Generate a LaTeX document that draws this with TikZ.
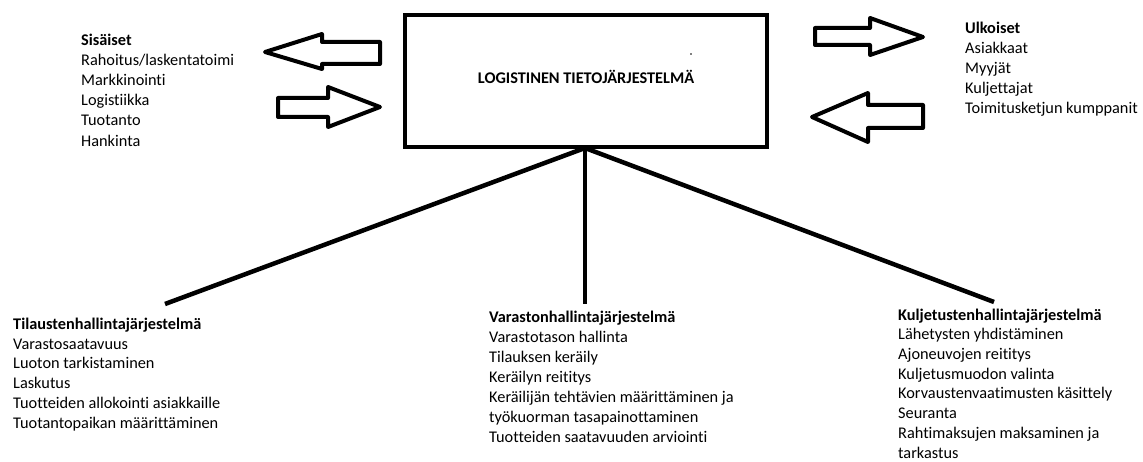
\documentclass[tikz,border=0pt]{standalone}
\usepackage{fontspec}
\setmainfont{Carlito}[Ligatures={NoCommon}]
\begin{document}
\begin{tikzpicture}[x=1pt,y=-1pt,
  txt/.style={anchor=north west, inner sep=0pt, align=left,
              font=\fontsize{16.3}{19.9}\selectfont},
  bigarrow/.style={draw, line width=4pt, line join=round, fill=white},
  link/.style={line width=4.5pt}]
\useasboundingbox (0,0) rectangle (1143,462);

% central system box
\node[draw, line width=4pt, minimum width=362pt, minimum height=132pt,
      inner sep=0pt] (sys) at (586,81) {};
\node[font=\bfseries\fontsize{16.3}{19}\selectfont] (title) at (586,77)
  {LOGISTINEN TIETOJÄRJESTELMÄ};
\fill (691,54) circle (0.8pt);

% internal stakeholders
\node[txt, font=\fontsize{16.3}{20.2}\selectfont] (int) at (81,33.5)
  {\textbf{Sisäiset}\\Rahoitus/laskentatoimi\\Markkinointi\\Logistiikka\\Tuotanto\\Hankinta};

% external stakeholders
\node[txt] (ext) at (965,22) {\textbf{Ulkoiset}\\Asiakkaat\\Myyjät\\Kuljettajat\\Toimitusketjun kumppanit};

% information flow arrows, left
\draw[bigarrow] (265,52) -- (322,34) -- (322,42) -- (380,42) -- (380,64)
  -- (322,64) -- (322,69) -- cycle;
\draw[bigarrow] (278,98) -- (328,98) -- (328,87) -- (380,107) -- (328,127)
  -- (328,117) -- (278,117) -- cycle;

% information flow arrows, right
\draw[bigarrow] (815,28) -- (870,28) -- (870,18) -- (923,37) -- (870,55)
  -- (870,45) -- (815,45) -- cycle;
\draw[bigarrow] (812,117) -- (868,93) -- (868,105) -- (923,105) -- (923,128)
  -- (868,128) -- (868,142) -- cycle;

% subsystems
\node[txt] (oms) at (13,317.5) {\textbf{Tilaustenhallintajärjestelmä}\\Varastosaatavuus\\Luoton tarkistaminen\\Laskutus\\Tuotteiden allokointi asiakkaille\\Tuotantopaikan määrittäminen};
\node[txt] (wms) at (489,311) {\textbf{Varastonhallintajärjestelmä}\\Varastotason hallinta\\Tilauksen keräily\\Keräilyn reititys\\Keräilijän tehtävien määrittäminen ja\\työkuorman tasapainottaminen\\Tuotteiden saatavuuden arviointi};
\node[txt, font=\fontsize{16.3}{19.7}\selectfont] (tms) at (898,308.5) {\textbf{Kuljetustenhallintajärjestelmä}\\Lähetysten yhdistäminen\\Ajoneuvojen reititys\\Kuljetusmuodon valinta\\Korvaustenvaatimusten käsittely\\Seuranta\\Rahtimaksujen maksaminen ja\\tarkastus};

% links from the system to its subsystems
\coordinate (hub) at (585,148);
\coordinate (endL) at (165,304);
\coordinate (endM) at (585,304);
\coordinate (endR) at (994,302);
\draw[link] (hub) -- (endL);
\draw[link] (hub) -- (endM);
\draw[link] (hub) -- (endR);
\end{tikzpicture}
\end{document}
